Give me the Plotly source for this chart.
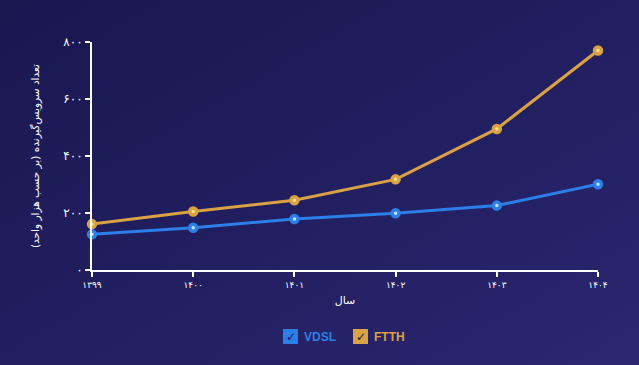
import base64
import plotly.graph_objects as go

years = [1399, 1400, 1401, 1402, 1403, 1404]
year_labels = ["۱۳۹۹", "۱۴۰۰", "۱۴۰۱", "۱۴۰۲", "۱۴۰۳", "۱۴۰۴"]
vdsl = [125, 148, 179, 199, 226, 301]
ftth = [161, 205, 245, 318, 495, 770]
y_ticks = [0, 200, 400, 600, 800]
y_tick_labels = ["۰", "۲۰۰", "۴۰۰", "۶۰۰", "۸۰۰"]
series_names = ["VDSL", "FTTH"]

W, H = 639, 365
L, R, T, B = 92, 41, 42, 95
pw, ph = W - L - R, H - T - B

BLUE = "#2d7fe8"
BLUE_IN = "#bfe3ff"
GOLD = "#d9a244"
GOLD_IN = "#f7e08a"
FONT = "DejaVu Sans"

svg = f'''<svg xmlns="http://www.w3.org/2000/svg" width="{W}" height="{H}" viewBox="0 0 {W} {H}" preserveAspectRatio="none">
<defs><linearGradient id="g" x1="0" y1="0" x2="1" y2="1">
<stop offset="0" stop-color="#191750"/><stop offset="1" stop-color="#2a2670"/></linearGradient></defs>
<rect width="{W}" height="{H}" fill="url(#g)"/></svg>'''
src = "data:image/svg+xml;base64," + base64.b64encode(svg.encode()).decode()

fig = go.Figure()
for name, vals, col, inner in [(series_names[0], vdsl, BLUE, BLUE_IN), (series_names[1], ftth, GOLD, GOLD_IN)]:
    fig.add_trace(go.Scatter(
        x=years, y=vals, name=name, mode="lines+markers",
        line=dict(color=col, width=3),
        marker=dict(size=7, color=inner, line=dict(color=col, width=3.5)),
        showlegend=False, cliponaxis=False,
    ))

def px_x(p):
    return (p - L) / pw

def px_y(p):
    return (H - B - p) / ph

shapes = []
annotations = []
legend_items = [(series_names[0], BLUE, 283, 302), (series_names[1], GOLD, 353, 372)]
for name, col, bx, tx in legend_items:
    shapes.append(dict(type="rect", xref="paper", yref="paper",
                       x0=px_x(bx), x1=px_x(bx + 15), y0=px_y(344), y1=px_y(329),
                       fillcolor=col, line=dict(width=0), layer="above"))
    annotations.append(dict(text="✓", xref="paper", yref="paper", x=px_x(bx + 7.5), y=px_y(336.5),
                            showarrow=False, font=dict(family=FONT, size=12, color="#1a1850"),
                            xanchor="center", yanchor="middle"))
    annotations.append(dict(text=f"<b>{name}</b>", xref="paper", yref="paper", x=px_x(tx), y=px_y(336.5),
                            showarrow=False, font=dict(family="Liberation Sans", size=12, color=col),
                            xanchor="left", yanchor="middle"))

fig.update_layout(
    width=W, height=H,
    margin=dict(l=L, r=R, t=T, b=B),
    paper_bgcolor="#201d5c", plot_bgcolor="rgba(0,0,0,0)",
    images=[dict(source=src, xref="paper", yref="paper", x=-L / pw, y=1 + T / ph,
                 sizex=W / pw, sizey=H / ph, sizing="stretch", xanchor="left", yanchor="top",
                 layer="below")],
    shapes=shapes, annotations=annotations,
    font=dict(family=FONT, color="white", size=10),
    xaxis=dict(range=[1399, 1404], tickvals=years, ticktext=year_labels,
               showgrid=False, zeroline=False, showline=True, linecolor="white", linewidth=2,
               ticks="outside", ticklen=5, tickwidth=2, tickcolor="white",
               tickfont=dict(size=9, color="white"),
               title=dict(text="سال", font=dict(size=11, color="white"), standoff=8)),
    yaxis=dict(range=[0, 800], tickvals=y_ticks, ticktext=y_tick_labels,
               showgrid=False, zeroline=False, showline=True, linecolor="white", linewidth=2,
               ticks="outside", ticklen=5, tickwidth=2, tickcolor="white",
               tickfont=dict(size=12, color="white"),
               title=dict(text="تعداد سرویس‌گیرنده (بر حسب هزار واحد)", font=dict(size=10.5, color="white"),
                          standoff=22)),
)

fig.write_html("out.html", config={"displayModeBar": False},
               post_script="document.body.style.margin='0';document.body.style.padding='0';document.body.style.background='#201d5c';")
